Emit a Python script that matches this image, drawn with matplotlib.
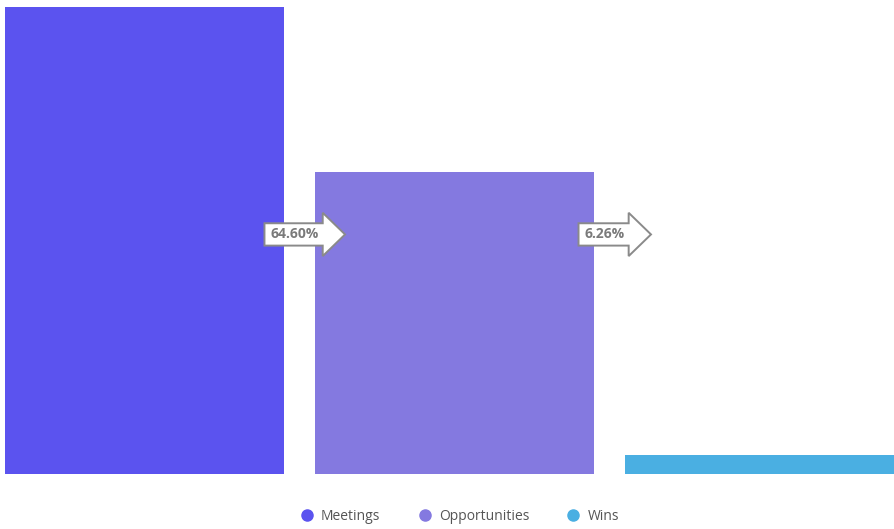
import matplotlib.pyplot as plt
from matplotlib.lines import Line2D
from matplotlib.path import Path
from matplotlib.transforms import blended_transform_factory

plt.rcParams['font.family'] = ['Open Sans', 'DejaVu Sans']

stages = ['Meetings', 'Opportunities', 'Wins']
counts = [4627, 2989, 187]
colors = ['#5b53ef', '#8479e0', '#4aafe2']


def arrow_box(x0, y0, width, height, mutation_size):
    # label box with a right-pointing arrow head
    pad = 0.3 * mutation_size
    x0, y0 = x0 - pad * 1.5, y0 - pad
    x1, y1 = x0 + width + pad * 2.4, y0 + height + pad * 2
    h = y1 - y0
    ym = (y0 + y1) / 2
    verts = [(x0, y0), (x1, y0), (x1, y0 - 0.47 * h), (x1 + h, ym),
             (x1, y1 + 0.47 * h), (x1, y1), (x0, y1), (x0, y0)]
    return Path(verts, closed=True)


fig = plt.figure(figsize=(8.95, 5.29), dpi=100)
ax = fig.add_axes([5 / 895, 55 / 529, 899 / 895, 467 / 529])

x = list(range(len(stages)))
width = 0.9
ax.bar(x, counts, width=width, color=colors)
ax.set_xlim(-width / 2, x[-1] + width / 2)
ax.set_ylim(0, max(counts))
ax.axis('off')

# conversion arrows between bars
trans = blended_transform_factory(ax.transData, ax.transAxes)
for i in range(len(stages) - 1):
    pct = counts[i + 1] / counts[i] * 100
    ax.text(i + 0.485, 0.513, f'{pct:.2f}%', transform=trans,
            ha='center', va='center', fontsize=10, fontweight='bold',
            color='#7a7a7a',
            bbox=dict(boxstyle=arrow_box, fc='white', ec='#8a8a8a', lw=1.4))

handles = [Line2D([], [], marker='o', ls='', ms=8, color=c, label=s)
           for s, c in zip(stages, colors)]
fig.legend(handles=handles, loc='center', ncol=3, frameon=False,
           fontsize=10, bbox_to_anchor=(459.5 / 895, 13 / 529),
           handlelength=1.0, handletextpad=0.5, columnspacing=2.7,
           labelcolor='#555555')

plt.savefig('out.png', dpi=100)
